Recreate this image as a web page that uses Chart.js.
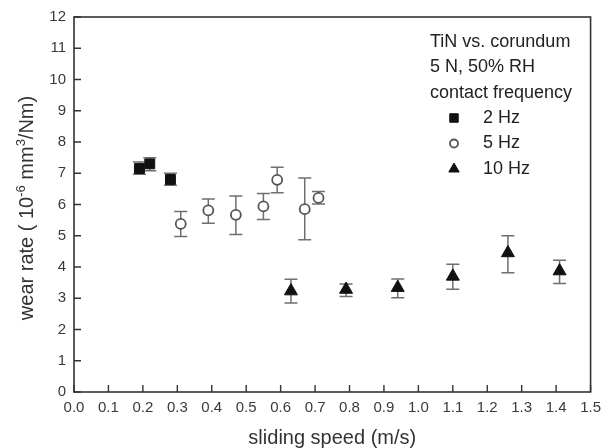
<!DOCTYPE html>
<html>
<head>
<meta charset="utf-8">
<script src="https://cdn.jsdelivr.net/npm/chart.js@4.4.0/dist/chart.umd.min.js"></script>
<style>
  html, body { margin: 0; padding: 0; background: #fff; }
</style>
</head>
<body>
<canvas id="myChart" width="608" height="448"></canvas>
<script>
// 2 Hz
const speed2Hz = [0.19, 0.22, 0.28];
const rate2Hz = [7.15, 7.30, 6.80];
const high2Hz = [7.36, 7.50, 7.00];
const low2Hz = [6.97, 7.08, 6.62];

// 5 Hz
const speed5Hz = [0.31, 0.39, 0.47, 0.55, 0.59, 0.67, 0.71];
const rate5Hz = [5.38, 5.81, 5.67, 5.94, 6.79, 5.85, 6.21];
const high5Hz = [5.78, 6.18, 6.27, 6.35, 7.19, 6.85, 6.42];
const low5Hz = [4.98, 5.40, 5.04, 5.52, 6.38, 4.87, 6.02];

// 10 Hz
const speed10Hz = [0.63, 0.79, 0.94, 1.10, 1.26, 1.41];
const rate10Hz = [3.23, 3.28, 3.34, 3.70, 4.45, 3.87];
const high10Hz = [3.61, 3.46, 3.62, 4.09, 5.00, 4.22];
const low10Hz = [2.85, 3.06, 3.02, 3.29, 3.82, 3.47];

const seriesLabels = ["2 Hz", "5 Hz", "10 Hz"];
const noteLines = ["TiN vs. corundum", "5 N, 50% RH", "contact frequency"];

const FONT = "'Liberation Sans', Arial, sans-serif";

const toPoints = (xs, ys, hi, lo) =>
  xs.map((x, i) => ({ x: x, y: ys[i], hi: hi[i], lo: lo[i] }));

// error bars behind the markers
const errorBars = {
  id: "errorBars",
  beforeDatasetsDraw(chart) {
    const ctx = chart.ctx;
    const xs = chart.scales.x;
    const ys = chart.scales.y;
    ctx.save();
    ctx.strokeStyle = "#6f6f6f";
    ctx.lineWidth = 1.5;
    chart.data.datasets.forEach((ds) => {
      ds.data.forEach((p) => {
        const px = xs.getPixelForValue(p.x);
        const top = ys.getPixelForValue(p.hi);
        const bot = ys.getPixelForValue(p.lo);
        ctx.beginPath();
        ctx.moveTo(px, top);
        ctx.lineTo(px, bot);
        ctx.moveTo(px - 6.5, top);
        ctx.lineTo(px + 6.5, top);
        ctx.moveTo(px - 6.5, bot);
        ctx.lineTo(px + 6.5, bot);
        ctx.stroke();
      });
    });
    ctx.restore();
  },
};

// frame, inward ticks, axis titles and the legend box
const decorations = {
  id: "decorations",
  afterDraw(chart) {
    const ctx = chart.ctx;
    const a = chart.chartArea;
    const xs = chart.scales.x;
    const ys = chart.scales.y;
    ctx.save();

    ctx.strokeStyle = "#333";
    ctx.lineWidth = 1.6;
    ctx.strokeRect(a.left, a.top, a.right - a.left, a.bottom - a.top);

    ctx.lineWidth = 1.4;
    ctx.beginPath();
    xs.ticks.forEach((t) => {
      const px = xs.getPixelForValue(t.value);
      ctx.moveTo(px, a.bottom);
      ctx.lineTo(px, a.bottom - 7);
    });
    ys.ticks.forEach((t) => {
      const py = ys.getPixelForValue(t.value);
      ctx.moveTo(a.left, py);
      ctx.lineTo(a.left + 7, py);
    });
    ctx.stroke();

    // x title
    ctx.fillStyle = "#333";
    ctx.font = "20px " + FONT;
    ctx.textAlign = "center";
    ctx.textBaseline = "middle";
    ctx.fillText("sliding speed (m/s)", (a.left + a.right) / 2, 438);

    // y title with superscripts
    const parts = [
      ["wear rate ( 10", false],
      ["-6", true],
      [" mm", false],
      ["3", true],
      ["/Nm)", false],
    ];
    const bigFont = "20px " + FONT;
    const supFont = "13px " + FONT;
    let total = 0;
    parts.forEach((p) => {
      ctx.font = p[1] ? supFont : bigFont;
      total += ctx.measureText(p[0]).width;
    });
    ctx.translate(33, 208);
    ctx.rotate(-Math.PI / 2);
    ctx.textAlign = "left";
    ctx.textBaseline = "alphabetic";
    let cx = -total / 2;
    parts.forEach((p) => {
      ctx.font = p[1] ? supFont : bigFont;
      ctx.fillText(p[0], cx, p[1] ? -8 : 0);
      cx += ctx.measureText(p[0]).width;
    });
    ctx.setTransform(1, 0, 0, 1, 0, 0);

    // legend
    ctx.fillStyle = "#222";
    ctx.font = "18px " + FONT;
    ctx.textAlign = "left";
    ctx.textBaseline = "middle";
    noteLines.forEach((line, i) => {
      ctx.fillText(line, 430, 42 + i * 25.5);
    });
    chart.data.datasets.forEach((ds, i) => {
      const py = 118 + i * 25.5;
      ctx.fillStyle = ds.backgroundColor;
      ctx.strokeStyle = ds.borderColor;
      ctx.lineWidth = ds.borderWidth;
      Chart.helpers.drawPoint(ctx, {
        pointStyle: ds.pointStyle,
        radius: ds.legendRadius,
        rotation: 0,
        borderWidth: ds.borderWidth,
      }, 454, py);
      ctx.fillStyle = "#222";
      ctx.fillText(seriesLabels[i], 483, py);
    });

    ctx.restore();
  },
};

const ctx = document.getElementById("myChart").getContext("2d");

new Chart(ctx, {
  type: "scatter",
  data: {
    datasets: [
      {
        label: seriesLabels[0],
        data: toPoints(speed2Hz, rate2Hz, high2Hz, low2Hz),
        pointStyle: "rect",
        pointRadius: 7,
        legendRadius: 6,
        backgroundColor: "#111",
        borderColor: "#111",
        borderWidth: 1,
      },
      {
        label: seriesLabels[1],
        data: toPoints(speed5Hz, rate5Hz, high5Hz, low5Hz),
        pointStyle: "circle",
        pointRadius: 5,
        legendRadius: 4,
        backgroundColor: "#fff",
        borderColor: "#555",
        borderWidth: 1.8,
      },
      {
        label: seriesLabels[2],
        data: toPoints(speed10Hz, rate10Hz, high10Hz, low10Hz),
        pointStyle: "triangle",
        pointRadius: 7.5,
        legendRadius: 6,
        backgroundColor: "#111",
        borderColor: "#111",
        borderWidth: 1,
      },
    ],
  },
  options: {
    responsive: false,
    animation: false,
    clip: false,
    layout: { padding: { top: 16, right: 10, left: 0, bottom: 0 } },
    scales: {
      x: {
        type: "linear",
        min: 0,
        max: 1.5,
        grid: { display: false, drawTicks: false, tickLength: 0 },
        border: { display: false },
        afterFit: (scale) => { scale.height = 56; },
        ticks: {
          stepSize: 0.1,
          padding: 7,
          color: "#3a3a3a",
          font: { family: FONT, size: 15 },
          maxRotation: 0,
          autoSkip: false,
          callback: (v) => Number(v).toFixed(1),
        },
      },
      y: {
        min: 0,
        max: 12,
        grid: { display: false, drawTicks: false, tickLength: 0 },
        border: { display: false },
        afterFit: (scale) => { scale.width = 74; },
        ticks: {
          stepSize: 1,
          padding: 8,
          color: "#3a3a3a",
          font: { family: FONT, size: 15 },
        },
      },
    },
    plugins: {
      legend: { display: false },
      tooltip: { enabled: false },
    },
  },
  plugins: [errorBars, decorations],
});
</script>
</body>
</html>
